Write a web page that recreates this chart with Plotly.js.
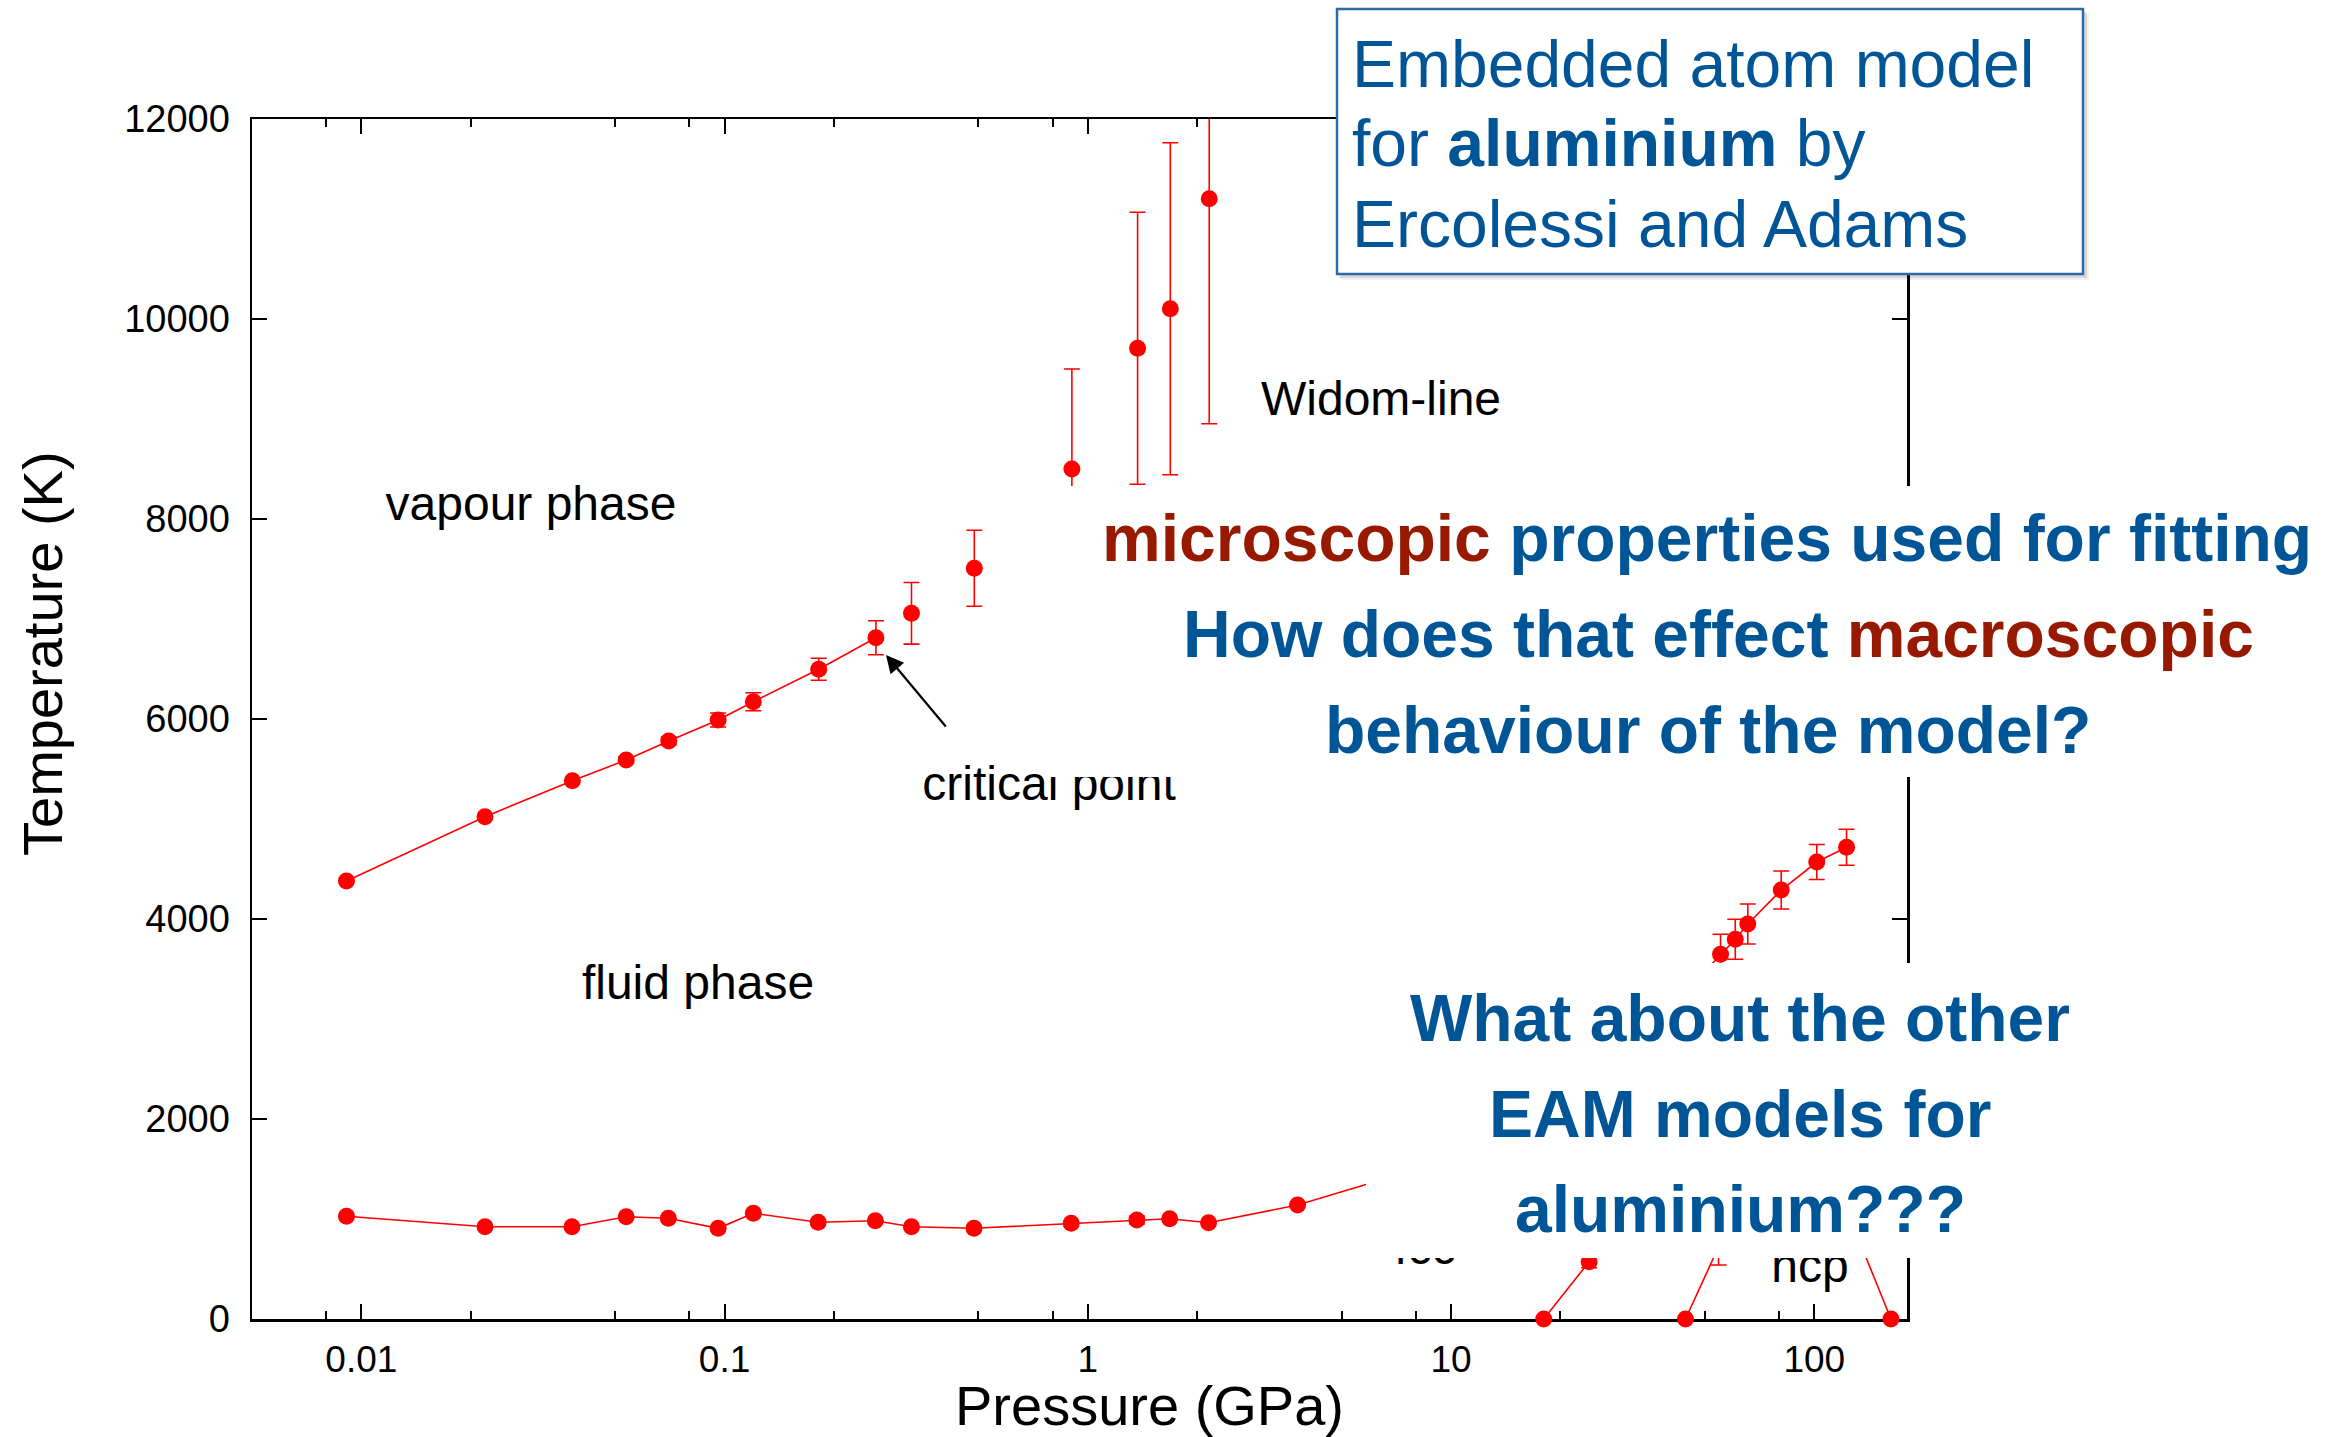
<!DOCTYPE html>
<html>
<head>
<meta charset="utf-8">
<script src="https://cdn.plot.ly/plotly-3.0.1.min.js"></script>
<style>
  html, body { margin: 0; padding: 0; background: #ffffff; }
  #chart { width: 2348px; height: 1437px; }
</style>
</head>
<body>
<div id="chart"></div>
<script>
// ---------------- data ----------------
// liquid-vapour coexistence line up to the critical point
const P_vapour = [0.0091, 0.0219, 0.0381, 0.0536, 0.0702, 0.096, 0.12, 0.1816, 0.261];
const T_vapour = [4380, 5023, 5383, 5590, 5780, 5990, 6173, 6497, 6813];
const E_vapour = [0, 0, 0, 30, 40, 70, 90, 110, 170];

// Widom-line points (no connecting line)
const P_widom = [0.327, 0.487, 0.904, 1.371, 1.687, 2.159];
const T_widom = [7057, 7507, 8500, 9707, 10103, 11203];
const E_widom = [308, 380, 1000, 1360, 1660, 2250];

// melting line, low pressure part (last point lies under the text box)
const P_melt = [0.0091, 0.0219, 0.038, 0.0536, 0.070, 0.096, 0.120, 0.181, 0.260, 0.327, 0.486, 0.90, 1.365, 1.68, 2.15, 3.78, 10];
const T_melt = [1027, 923, 923, 1023, 1007, 907, 1057, 967, 983, 923, 907, 957, 990, 1003, 963, 1140, 1600];
const E_melt = [0, 0, 0, 0, 0, 0, 0, 0, 0, 0, 0, 0, 40, 0, 0, 0, 0];

// melting line, high pressure part (first point lies under the text box)
const P_high = [45, 55.2, 60.6, 65.6, 81.1, 101.6, 122.7];
const T_high = [3300, 3647, 3797, 3950, 4290, 4570, 4717];
const E_high = [0, 200, 200, 200, 190, 175, 180];

// solid-solid transition lines starting at 0 K
const P_trans1 = [18.0, 24.0];
const T_trans1 = [0, 573];
const E_trans1 = [0, 60];
const P_trans2 = [44.2, 54.5];
const T_trans2 = [0, 720];
const E_trans2 = [0, 180];
const P_trans3 = [162.6, 129];
const T_trans3 = [0, 900];
const E_trans3 = [0, 0];

// tick labels
const xTickVals = [0.01, 0.1, 1, 10, 100];
const xTickText = ['0.01', '0.1', '1', '10', '100'];
const xMinorVals = [0.008, 0.02, 0.05, 0.08, 0.2, 0.5, 0.8, 2, 5, 8, 20, 50, 80];
const yTickVals = [0, 2000, 4000, 6000, 8000, 10000, 12000];
const yTickText = ['0', '2000', '4000', '6000', '8000', '10000', '12000'];

// in-plot region labels
const regionLabels = ['vapour phase', 'fluid phase', 'critical point', 'Widom-line', 'fcc', 'hcp'];

// ---------------- layout helpers ----------------
const W = 2348, H = 1437;
const L = 252, R = 1907, T = 119, B = 1319;
const XMIN = Math.log10(0.005), XMAX = Math.log10(180);
const YMIN = 0, YMAX = 12000;
const px = x => (x - L) / (R - L);
const py = y => (B - y) / (B - T);
const pxToP = x => Math.pow(10, XMIN + px(x) * (XMAX - XMIN));
const pyToT = y => YMIN + py(y) * (YMAX - YMIN);

// pixel placement of the region labels (centre of text)
const labelPixX = [531, 698, 1049, 1381, 1425, 1810];
const labelPixY = [508, 987, 788, 403, 1252, 1270];

const FONT = '"Liberation Sans", Arial, Helvetica, sans-serif';
const RED = '#ff0000';
const BLUE = '#005596';
const DARKRED = '#971a00';

function errs(arr) {
  return { type: 'data', array: arr, visible: true, color: RED, thickness: 1.6, width: 8 };
}
function series(xs, ys, es, mode, clip) {
  return {
    x: xs, y: ys, type: 'scatter', mode: mode,
    line: { color: RED, width: 1.6 },
    marker: { color: RED, size: 17 },
    error_y: errs(es),
    cliponaxis: clip,
    hoverinfo: 'skip'
  };
}

const traces = [
  series(P_vapour, T_vapour, E_vapour, 'lines+markers', true),
  series(P_widom, T_widom, E_widom, 'markers', true),
  series(P_melt, T_melt, E_melt, 'lines+markers', true),
  series(P_high, T_high, E_high, 'lines+markers', true),
  series(P_trans1, T_trans1, E_trans1, 'lines+markers', false),
  series(P_trans2, T_trans2, E_trans2, 'lines+markers', false),
  series(P_trans3, T_trans3, E_trans3, 'lines+markers', false),
  {
    x: labelPixX.map(pxToP), y: labelPixY.map(pyToT),
    type: 'scatter', mode: 'text', text: regionLabels,
    textposition: 'middle center',
    textfont: { family: FONT, size: 48, color: '#000000' },
    cliponaxis: false, hoverinfo: 'skip'
  }
];

function rect(x0, y0, x1, y1, fill, lineColor, lineWidth) {
  return {
    type: 'rect', xref: 'paper', yref: 'paper', layer: 'above',
    x0: px(x0), x1: px(x1), y0: py(y1), y1: py(y0),
    fillcolor: fill,
    line: { color: lineColor || 'rgba(0,0,0,0)', width: lineWidth || 0 }
  };
}

const shapes = [
  // box 1 shadow + box
  rect(1341, 14, 2089, 280, 'rgba(0,0,0,0.06)'),
  rect(1339, 12, 2087, 278, 'rgba(0,0,0,0.10)'),
  rect(1337, 9, 2083, 274, '#ffffff', '#2b6ba6', 2.5),
  // white backgrounds of the two overlaid texts
  rect(1045, 486, 2348, 777, '#ffffff'),
  rect(1366, 963, 2348, 1258, '#ffffff')
];

function txt(text, x, y, size, opts) {
  return Object.assign({
    xref: 'paper', yref: 'paper', x: px(x), y: py(y),
    text: text, showarrow: false,
    xanchor: 'center', yanchor: 'middle',
    font: { family: FONT, size: size, color: '#000000' }
  }, opts || {});
}
const blue66 = { family: FONT, size: 66, color: BLUE };

const annotations = [
  txt('Pressure (GPa)', 1149, 1405, 56),
  txt('Temperature (K)', 42, 654, 56, { textangle: -90 }),
  {
    xref: 'paper', yref: 'paper', x: px(886), y: py(655),
    ax: 61, ay: 73, axref: 'pixel', ayref: 'pixel',
    text: '', showarrow: true, arrowhead: 2, arrowsize: 1.6, arrowwidth: 2.2,
    arrowcolor: '#000000', standoff: 0, startstandoff: 0
  },
  // box 1 text
  txt('Embedded atom model', 1350, 64, 66, { xanchor: 'left', font: blue66 }),
  txt('for <b>aluminium</b> by', 1350, 143, 66, { xanchor: 'left', font: blue66 }),
  txt('Ercolessi and Adams', 1350, 224, 66, { xanchor: 'left', font: blue66 }),
  // box 2 text
  txt('<b><span style="color:' + DARKRED + '">microscopic</span> properties used for fitting</b>', 1707, 538, 66, { font: blue66 }),
  txt('<b>How does that effect <span style="color:' + DARKRED + '">macroscopic</span></b>', 1718, 634, 66, { font: blue66 }),
  txt('<b>behaviour of the model?</b>', 1708, 730, 66, { font: blue66 }),
  // box 3 text
  txt('<b>What about the other</b>', 1740, 1018, 66, { font: blue66 }),
  txt('<b>EAM models for</b>', 1740, 1114, 66, { font: blue66 }),
  txt('<b>aluminium???</b>', 1740, 1209, 66, { font: blue66 })
];

const axisCommon = {
  showline: true, linecolor: '#000000', linewidth: 2.5, mirror: 'ticks',
  ticks: 'inside', ticklen: 15, tickwidth: 2, tickcolor: '#000000',
  showgrid: false, zeroline: false, layer: 'below traces',
  tickmode: 'array'
};

const layout = {
  width: W, height: H,
  margin: { l: L, r: W - R, t: T, b: H - B, pad: 0 },
  paper_bgcolor: '#ffffff', plot_bgcolor: '#ffffff',
  showlegend: false,
  font: { family: FONT, color: '#000000' },
  xaxis: Object.assign({}, axisCommon, {
    type: 'log',
    range: [XMIN, XMAX],
    tickvals: xTickVals, ticktext: xTickText,
    tickfont: { family: FONT, size: 37, color: '#000000' },
    ticklabelstandoff: 6,
    minor: { tickmode: 'array', tickvals: xMinorVals, ticks: 'inside', ticklen: 8, tickwidth: 2, tickcolor: '#000000', showgrid: false }
  }),
  yaxis: Object.assign({}, axisCommon, {
    range: [YMIN, YMAX],
    tickvals: yTickVals, ticktext: yTickText,
    tickfont: { family: FONT, size: 38, color: '#000000' },
    ticklabelstandoff: 12
  }),
  shapes: shapes,
  annotations: annotations
};

Plotly.newPlot('chart', traces, layout, { displayModeBar: false, staticPlot: true });
</script>
</body>
</html>
